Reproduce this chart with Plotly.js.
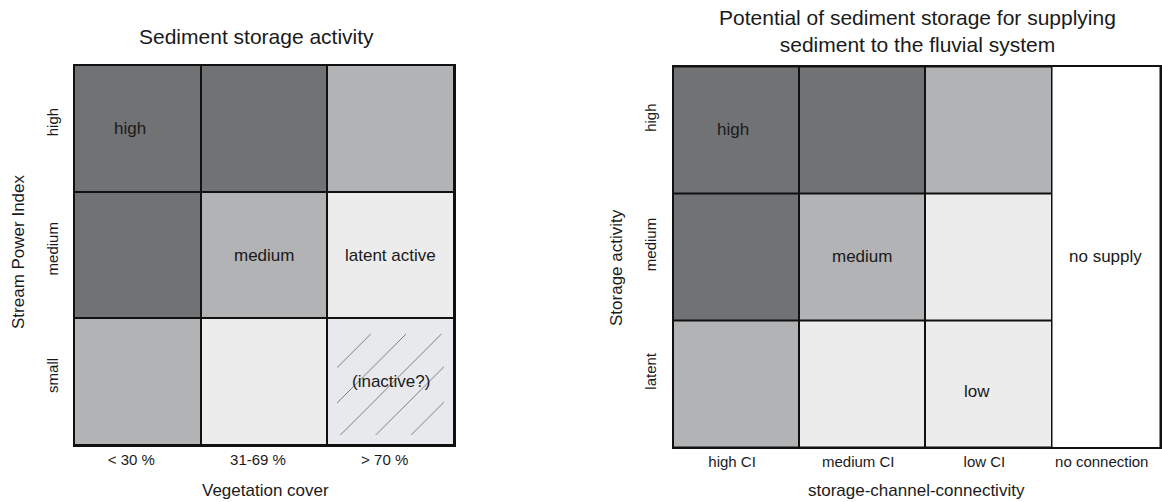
<!DOCTYPE html>
<html>
<head>
<meta charset="utf-8">
<script src="https://cdn.plot.ly/plotly-3.0.1.min.js"></script>
<style>html,body{margin:0;padding:0;background:#fff;}#chart{width:1162px;height:502px;}</style>
</head>
<body>
<div id="chart"></div>
<script>
// ---------- DATA ----------
// Left panel: Sediment storage activity
const vegCategories = ['< 30 %', '31-69 %', '> 70 %'];
const spiCategories = ['small', 'medium', 'high'];            // bottom -> top
// activity class per cell: 0 = inactive, 1 = latent active, 2 = medium, 3 = high
const activityZ = [
  [2, 1, 0],   // small
  [3, 2, 1],   // medium
  [3, 3, 2]    // high
];
const activityLabels = [
  ['', '', '(inactive?)'],
  ['', 'medium', 'latent active'],
  ['high', '', '']
];

// Right panel: Potential of sediment storage for supplying sediment
const connCategories = ['high CI', 'medium CI', 'low CI', 'no connection'];
const storageCategories = ['latent', 'medium', 'high'];       // bottom -> top
// potential class per cell: 0 = no supply, 1 = low, 2 = medium, 3 = high
const potentialZ = [
  [2, 1, 1, 0],   // latent
  [3, 2, 1, 0],   // medium
  [3, 3, 2, 0]    // high
];
const potentialLabels = [
  ['', '', 'low', ''],
  ['', 'medium', '', 'no supply'],
  ['high', '', '', '']
];

// ---------- STYLE ----------
const FONT = '"Liberation Sans", Arial, Helvetica, sans-serif';
const TXT = '#1a1a1a';
const DARK = '#717274', MID = '#b2b3b5', LIGHT = '#ececec', HATCHBG = '#e8e9ed', WHITE = '#ffffff';
function stepScale(cols) {
  const n = cols.length, out = [];
  cols.forEach((c, i) => { out.push([i / n, c]); out.push([(i + 1) / n, c]); });
  return out;
}
const leftScale = stepScale([HATCHBG, LIGHT, MID, DARK]);
const rightScale = stepScale([WHITE, LIGHT, MID, DARK]);

const H = 502, W = 1162;
const px = v => v / W, py = v => (H - v) / H;
const lastColW = 0.86;   // narrower "no connection" column

// ---------- TRACES ----------
const traces = [];
const rowIdx = spiCategories.map((_, i) => i);
const colIdx = vegCategories.map((_, i) => i);

traces.push({
  type: 'heatmap', xaxis: 'x', yaxis: 'y',
  x: colIdx, y: rowIdx, z: activityZ,
  zmin: -0.5, zmax: 3.5, colorscale: leftScale, showscale: false,
  xgap: 2, ygap: 2, hoverinfo: 'skip'
});

// hatched inactive cell(s)
const hatchX = [], hatchY = [];
activityZ.forEach((row, r) => row.forEach((v, c) => { if (v === 0) { hatchX.push(c); hatchY.push(r); } }));
traces.push({
  type: 'bar', xaxis: 'x', yaxis: 'y',
  x: hatchX, y: hatchX.map(() => 0.8), base: hatchY.map(r => r - 0.42),
  width: hatchX.map(() => 0.84),
  marker: { color: 'rgba(0,0,0,0)', line: { width: 0 },
    pattern: { shape: '/', fgcolor: '#3c3c3c', bgcolor: 'rgba(0,0,0,0)', size: 25, solidity: 0.025 } },
  hoverinfo: 'skip', showlegend: false
});

// right panel: first three connectivity classes as a grid
const nMain = connCategories.length - 1;
traces.push({
  type: 'heatmap', xaxis: 'x2', yaxis: 'y2',
  x: connCategories.slice(0, nMain).map((_, i) => i),
  y: storageCategories.map((_, i) => i),
  z: potentialZ.map(r => r.slice(0, nMain)),
  zmin: -0.5, zmax: 3.5, colorscale: rightScale, showscale: false,
  xgap: 2, ygap: 2, hoverinfo: 'skip'
});
// "no connection" column is one merged cell
const lastX0 = nMain - 0.5, lastX1 = lastX0 + lastColW;
traces.push({
  type: 'heatmap', xaxis: 'x2', yaxis: 'y2',
  x: [lastX0, lastX1], y: [-0.5, storageCategories.length - 0.5],
  z: [[potentialZ[0][nMain]]],
  zmin: -0.5, zmax: 3.5, colorscale: rightScale, showscale: false,
  xgap: 2, ygap: 0, hoverinfo: 'skip'
});

// ---------- ANNOTATIONS ----------
const shifts = { 'high': [-7, 0], 'low': [-11, -8] };
const annotations = [];
activityLabels.forEach((row, r) => row.forEach((t, c) => {
  if (!t) return;
  const s = shifts[t] || [0, 0];
  annotations.push({ xref: 'x', yref: 'y', x: c, y: r, text: t, showarrow: false,
    xshift: s[0], yshift: s[1], font: { family: FONT, size: 17, color: TXT } });
}));
potentialLabels.forEach((row, r) => row.forEach((t, c) => {
  if (!t) return;
  let x = c, y = r, s = shifts[t] || [0, 0];
  if (c === nMain) { x = (lastX0 + lastX1) / 2; y = (storageCategories.length - 1) / 2; }
  if (t === 'high') s = [-3, 0];
  annotations.push({ xref: 'x2', yref: 'y2', x: x, y: y, text: t, showarrow: false,
    xshift: s[0], yshift: s[1], font: { family: FONT, size: 17, color: TXT } });
}));
// titles
annotations.push({ xref: 'paper', yref: 'paper', x: px(256), y: py(36), xanchor: 'center', yanchor: 'middle',
  text: 'Sediment storage activity', showarrow: false, font: { family: FONT, size: 21, color: TXT } });
annotations.push({ xref: 'paper', yref: 'paper', x: px(917), y: py(31), xanchor: 'center', yanchor: 'middle',
  text: 'Potential of sediment storage for supplying<br>sediment to the fluvial system', showarrow: false,
  font: { family: FONT, size: 21, color: TXT } });
// axis titles
annotations.push({ xref: 'paper', yref: 'paper', x: px(265), y: py(490), xanchor: 'center', yanchor: 'middle',
  text: 'Vegetation cover', showarrow: false, font: { family: FONT, size: 17, color: TXT } });
annotations.push({ xref: 'paper', yref: 'paper', x: px(916), y: py(490), xanchor: 'center', yanchor: 'middle',
  text: 'storage-channel-connectivity', showarrow: false, font: { family: FONT, size: 17, color: TXT } });
annotations.push({ xref: 'paper', yref: 'paper', x: px(18), y: py(252), xanchor: 'center', yanchor: 'middle',
  text: 'Stream Power Index', textangle: -90, showarrow: false, font: { family: FONT, size: 17, color: TXT } });
annotations.push({ xref: 'paper', yref: 'paper', x: px(616), y: py(268), xanchor: 'center', yanchor: 'middle',
  text: 'Storage activity', textangle: -90, showarrow: false, font: { family: FONT, size: 17, color: TXT } });

// ---------- LAYOUT ----------
const axBase = {
  showgrid: false, zeroline: false, ticks: '', showline: true, mirror: true,
  linecolor: '#111', linewidth: 1.5, fixedrange: true,
  tickfont: { family: FONT, size: 15, color: TXT }
};
const layout = {
  width: W, height: H, margin: { l: 0, r: 0, t: 0, b: 0 },
  paper_bgcolor: '#fff', plot_bgcolor: '#111', showlegend: false,
  font: { family: FONT, color: TXT },
  xaxis: Object.assign({}, axBase, { domain: [px(74), px(454)], range: [-0.5, vegCategories.length - 0.5],
    tickvals: colIdx, ticktext: vegCategories, anchor: 'y', ticklabelstandoff: 0, ticklabelshift: -6 }),
  yaxis: Object.assign({}, axBase, { domain: [py(445), py(65)], range: [-0.5, spiCategories.length - 0.5],
    tickvals: rowIdx, ticktext: spiCategories, tickangle: -90, anchor: 'x', ticklabelstandoff: 9, ticklabelshift: -4 }),
  xaxis2: Object.assign({}, axBase, { domain: [px(673), px(1160)], range: [-0.5, lastX1],
    tickvals: connCategories.map((_, i) => i < nMain ? i : (lastX0 + lastX1) / 2),
    ticktext: connCategories, anchor: 'y2', ticklabelstandoff: 0, ticklabelshift: -4 }),
  yaxis2: Object.assign({}, axBase, { domain: [py(447), py(66.5)], range: [-0.5, storageCategories.length - 0.5],
    tickvals: storageCategories.map((_, i) => i), ticktext: storageCategories, tickangle: -90,
    anchor: 'x2', ticklabelstandoff: 10, ticklabelshift: -10 }),
  annotations: annotations,
  bargap: 0
};

Plotly.newPlot('chart', traces, layout, { displayModeBar: false, staticPlot: true });
</script>
</body>
</html>
